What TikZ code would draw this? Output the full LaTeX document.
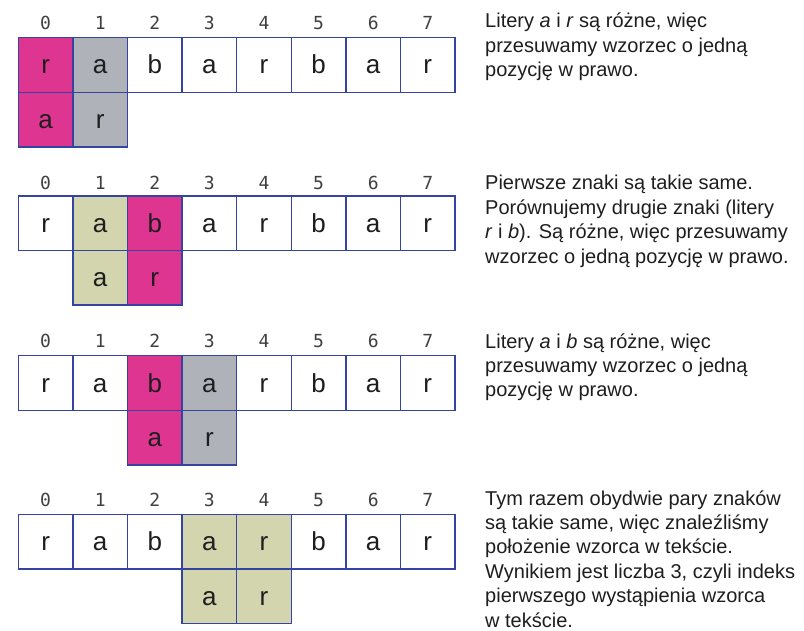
\documentclass[tikz,border=0pt]{standalone}
\usepackage{fontspec}
\setmainfont{Liberation Sans}
\newfontfamily\monof{DejaVu Sans Mono}
\definecolor{pinkc}{HTML}{DE3590}
\definecolor{greyc}{HTML}{B0B2BA}
\definecolor{khaki}{HTML}{D2D5AE}
\definecolor{edge}{HTML}{3444A0}
\definecolor{ink}{HTML}{1E1E1E}
\begin{document}
\begin{tikzpicture}[x=1pt,y=-1pt,
  cell/.style={draw=edge, line width=1.5pt, minimum width=54.6pt, minimum height=54.6pt,
    inner sep=0pt, outer sep=0pt, anchor=north west, font=\fontsize{26}{26}\selectfont,
    text height=18pt, text depth=0pt, text=ink},
  idx/.style={anchor=base, font=\monof\fontsize{18}{18}\selectfont, text=ink!85, inner sep=0pt},
  note/.style={anchor=base west, align=left, inner sep=0pt,
    font=\fontsize{20}{24.4}\selectfont, text=ink}]
\useasboundingbox (0,0) rectangle (804,631);
\fill[white] (0,0) rectangle (804,631);
\foreach \row/\top/\dig/\s/\ca/\cb in {1/37.7/29.3/0/pinkc/greyc, 2/196/189.3/1/khaki/pinkc, 3/355.7/347.7/2/pinkc/greyc, 4/514.3/506.7/3/khaki/khaki}{
  \foreach \ch [count=\i from 0] in {r,a,b,a,r,b,a,r}{
    \ifnum\i=\s\relax \edef\fc{\ca}\else
      \ifnum\i=\numexpr\s+1\relax \edef\fc{\cb}\else \def\fc{white}\fi\fi
    \node[cell, fill=\fc] (r\row c\i) at ({18.3+54.6*\i},\top) {\ch};
    \node[idx] (d\row c\i) at ({45.6+54.6*\i},\dig) {\i};
  }
  \node[cell, fill=\ca] (p\row a) at ({18.3+54.6*\s},{\top+54.6}) {a};
  \node[cell, fill=\cb] (p\row b) at ({18.3+54.6*(\s+1)},{\top+54.6}) {r};
}
% anchor base = baseline of the last line
\node[note] (n1) at (485,76.8) {Litery \textit{a} i \textit{r} są różne, więc\\przesuwamy wzorzec o jedną\\pozycję w prawo.};
\node[note] (n2) at (485,263.2) {Pierwsze znaki są takie same.\\Porównujemy drugie znaki (litery\\\textit{r} i \textit{b}). Są różne, więc przesuwamy\\wzorzec o jedną pozycję w prawo.};
\node[note] (n3) at (485,396.8) {Litery \textit{a} i \textit{b} są różne, więc\\przesuwamy wzorzec o jedną\\pozycję w prawo.};
\node[note] (n4) at (485,627) {Tym razem obydwie pary znaków\\są takie same, więc znaleźliśmy\\położenie wzorca w tekście.\\Wynikiem jest liczba 3, czyli indeks\\pierwszego wystąpienia wzorca\\w tekście.};
\end{tikzpicture}
\end{document}
